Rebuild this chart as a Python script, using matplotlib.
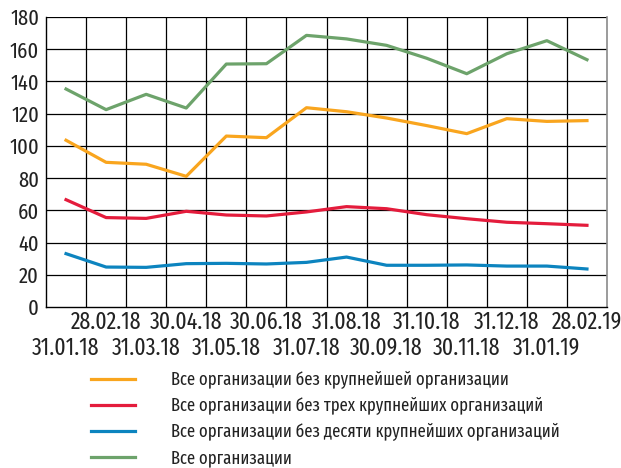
import matplotlib
matplotlib.use("Agg")
import matplotlib.pyplot as plt

dates = ["31.01.18", "28.02.18", "31.03.18", "30.04.18", "31.05.18", "30.06.18",
         "31.07.18", "31.08.18", "30.09.18", "31.10.18", "30.11.18", "31.12.18",
         "31.01.19", "28.02.19"]

all_orgs = [135.3, 122.5, 132.0, 123.5, 150.8, 151.0, 168.6, 166.4, 162.4, 154.4,
            144.8, 157.2, 165.3, 153.5]
without_top1 = [103.5, 89.8, 88.6, 81.1, 106.1, 105.1, 123.7, 121.2, 117.3, 112.6,
                107.6, 116.9, 115.2, 115.7]
without_top3 = [66.6, 55.5, 55.0, 59.4, 57.1, 56.5, 59.0, 62.3, 61.0, 57.3,
                54.8, 52.6, 51.7, 50.7]
without_top10 = [33.1, 24.8, 24.6, 26.9, 27.1, 26.7, 27.7, 31.0, 25.9, 25.9,
                 26.1, 25.4, 25.4, 23.6]

labels = ["Все организации без крупнейшей организации",
          "Все организации без трех крупнейших организаций",
          "Все организации без десяти крупнейших организаций",
          "Все организации"]
colors = ["#F9A51E", "#E41C3C", "#0C84BF", "#6DA36B"]

plt.rcParams["font.family"] = ["Fira Sans Extra Condensed", "Roboto Condensed", "DejaVu Sans"]
plt.rcParams["text.color"] = "#222222"
plt.rcParams["xtick.color"] = "#222222"
plt.rcParams["ytick.color"] = "#222222"

fig = plt.figure(figsize=(6.21, 4.68), dpi=100)
ax = fig.add_axes([46 / 621, 1 - 307 / 468, (607 - 46) / 621, (307 - 17) / 468])

x = list(range(len(dates)))
series = [without_top1, without_top3, without_top10, all_orgs]
handles = []
for vals, col, lab in zip(series, colors, labels):
    h, = ax.plot(x, vals, color=col, lw=2.3, label=lab, zorder=3)
    handles.append(h)

ax.set_xlim(-0.5, len(dates) - 0.5)
ax.set_ylim(0, 180)
ax.set_yticks(range(0, 181, 20))
ax.tick_params(axis="y", length=0, pad=5, labelsize=16)

# grid: vertical lines between the monthly points, horizontal at every 20
for b in range(1, len(dates)):
    ax.axvline(b - 0.5, color="black", lw=0.9, zorder=1)
for yv in range(20, 181, 20):
    ax.axhline(yv, color="black", lw=0.9, zorder=1)

# staggered date labels: odd positions in the upper row, even in the lower row
ax.set_xticks(x[0::2])
ax.set_xticklabels(dates[0::2])
ax.set_xticks(x[1::2], minor=True)
ax.set_xticklabels(dates[1::2], minor=True)
ax.tick_params(axis="x", which="major", length=0, pad=21, labelsize=17)
ax.tick_params(axis="x", which="minor", length=0, pad=2.5, labelsize=17)

ax.spines["top"].set_visible(False)
ax.spines["right"].set_color("#8a8a8a")
ax.spines["right"].set_linewidth(1.2)
for s in ["left", "bottom"]:
    ax.spines[s].set_color("black")
    ax.spines[s].set_linewidth(1.0)

fig.legend(handles=handles, labels=labels, loc="upper left",
           bbox_to_anchor=(91 / 621, 1 - 371 / 468), frameon=False,
           prop={"size": 13}, handlelength=2.45,
           handletextpad=2.0, labelspacing=0.45, borderpad=0, borderaxespad=0)

fig.savefig("out.png", dpi=100)
